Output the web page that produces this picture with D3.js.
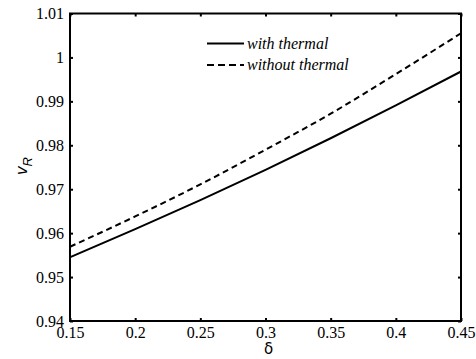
<!DOCTYPE html>
<html>
<head>
<meta charset="utf-8">
<script src="https://cdn.jsdelivr.net/npm/d3@7"></script>
<style>
  body { margin: 0; background: white; }
  .serif { font-family: "Liberation Serif", "Times New Roman", "DejaVu Serif", serif; }
</style>
</head>
<body>
<div class="display"></div>
<script>
const deltas = [0.15, 0.2, 0.25, 0.3, 0.35, 0.4, 0.45];
const withThermal = [0.9545, 0.9609, 0.9675, 0.9744, 0.9816, 0.9891, 0.9968];
const withoutThermal = [0.9569, 0.9638, 0.9711, 0.9790, 0.9872, 0.9962, 1.0055];
const xTicks = [0.15, 0.2, 0.25, 0.3, 0.35, 0.4, 0.45];
const yTicks = [0.94, 0.95, 0.96, 0.97, 0.98, 0.99, 1, 1.01];
const seriesNames = ['with thermal', 'without thermal'];

const width = 476;
const height = 359;
const margin = {left: 70, right: 15, top: 13.5, bottom: 38};

const svg = d3.select('.display')
  .append('svg')
  .attr('width', width)
  .attr('height', height);

const x = d3.scaleLinear().domain([0.15, 0.45]).range([margin.left, width - margin.right]);
const y = d3.scaleLinear().domain([0.94, 1.01]).range([height - margin.bottom, margin.top]);

const fmt = d => String(+d.toFixed(2));

// axes, ticks pointing inward
const xAxisG = svg.append('g')
  .attr('transform', `translate(0, ${height - margin.bottom})`)
  .call(d3.axisBottom(x).tickValues(xTicks).tickFormat(fmt).tickSizeInner(-3).tickSizeOuter(0).tickPadding(6));
svg.append('g')
  .attr('transform', `translate(0, ${margin.top})`)
  .call(d3.axisTop(x).tickValues(xTicks).tickFormat('').tickSizeInner(-3).tickSizeOuter(0));
const yAxisG = svg.append('g')
  .attr('transform', `translate(${margin.left}, 0)`)
  .call(d3.axisLeft(y).tickValues(yTicks).tickFormat(fmt).tickSizeInner(-3).tickSizeOuter(0).tickPadding(6));
svg.append('g')
  .attr('transform', `translate(${width - margin.right}, 0)`)
  .call(d3.axisRight(y).tickValues(yTicks).tickFormat('').tickSizeInner(-3).tickSizeOuter(0));

svg.selectAll('.domain').remove();
svg.selectAll('.tick line').attr('stroke', 'black').attr('stroke-width', 2);
[xAxisG, yAxisG].forEach(g => g.attr('font-family', null).attr('font-size', 16).attr('class', 'serif'));
svg.selectAll('.tick text').attr('fill', 'black');

svg.append('rect')
  .attr('x', margin.left)
  .attr('y', margin.top)
  .attr('width', width - margin.left - margin.right)
  .attr('height', height - margin.top - margin.bottom)
  .attr('fill', 'none')
  .attr('stroke', 'black')
  .attr('stroke-width', 2);

const line = d3.line()
  .x((d, i) => x(deltas[i]))
  .y(d => y(d))
  .curve(d3.curveMonotoneX);

svg.append('path')
  .attr('d', line(withThermal))
  .attr('fill', 'none')
  .attr('stroke', 'black')
  .attr('stroke-width', 2);

svg.append('path')
  .attr('d', line(withoutThermal))
  .attr('fill', 'none')
  .attr('stroke', 'black')
  .attr('stroke-width', 2)
  .attr('stroke-dasharray', '6,4');

// legend
const legend = svg.append('g');
legend.append('line')
  .attr('x1', 207).attr('x2', 244).attr('y1', 43.5).attr('y2', 43.5)
  .attr('stroke', 'black').attr('stroke-width', 2);
legend.append('line')
  .attr('x1', 207).attr('x2', 244).attr('y1', 65).attr('y2', 65)
  .attr('stroke', 'black').attr('stroke-width', 2).attr('stroke-dasharray', '7,4');
legend.selectAll('text')
  .data(seriesNames)
  .enter()
  .append('text')
  .attr('class', 'serif')
  .attr('x', 247)
  .attr('y', (d, i) => 48.5 + i * 21.5)
  .attr('font-style', 'italic')
  .attr('font-size', 16)
  .text(d => d);

// axis labels
svg.append('text')
  .attr('x', 268.5)
  .attr('y', 354)
  .attr('text-anchor', 'middle')
  .attr('font-family', 'DejaVu Sans, sans-serif')
  .attr('font-size', 15)
  .text('δ');

const yl = svg.append('text')
  .attr('transform', 'translate(27, 166) rotate(-90)')
  .attr('text-anchor', 'middle')
  .attr('font-family', 'Liberation Sans, Arial, sans-serif')
  .attr('font-size', 17);
yl.append('tspan').attr('font-style', 'italic').text('v');
yl.append('tspan').attr('font-style', 'italic').attr('font-size', 13).attr('dy', 5).text('R');
</script>
</body>
</html>
